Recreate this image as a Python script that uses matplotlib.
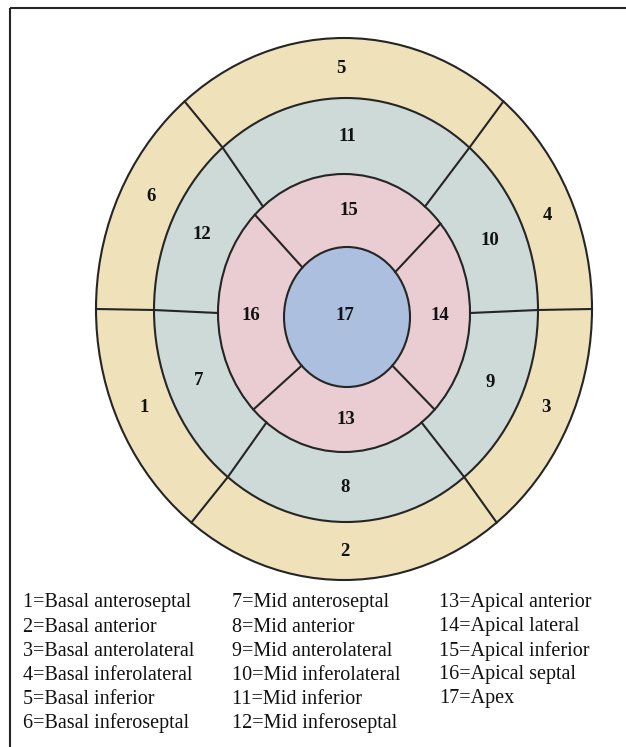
import numpy as np
import matplotlib
matplotlib.use("Agg")
import matplotlib.pyplot as plt
from matplotlib.patches import Ellipse, Rectangle

# AHA 17 segment bullseye, ring outlines in picture pixels (y down)
# order: basal outer edge, basal/mid, mid/apical, apex
ring_cx = [344, 346, 344, 347]
ring_cy = [309, 310, 313, 317]
ring_rx = [248, 192, 126, 63]
ring_ry = [271, 212, 139, 70]
ring_colors = ["#EFE2BB", "#CDDAD8", "#E9CDD2", "#ACBFDF"]

# spoke angles in degrees, counter-clockwise from 3 o'clock
basal_spokes = [0, 50, 130, 180, 232, 308]   # same for mid ring
apical_spokes = [40, 135, 224, 316]

# segment numbers per ring and angle where the number is written
basal_segs = [4, 5, 6, 1, 2, 3]
basal_lab_ang = [23, 91, 152, 204, 270, 336]
mid_segs = [10, 11, 12, 7, 8, 9]
mid_lab_ang = [24, 89, 154, 203, 270, 336]
apical_segs = [14, 15, 16, 13]
apical_lab_ang = [0, 88, 180, 270]

seg_names = ["Basal anteroseptal", "Basal anterior", "Basal anterolateral",
             "Basal inferolateral", "Basal inferior", "Basal inferoseptal",
             "Mid anteroseptal", "Mid anterior", "Mid anterolateral",
             "Mid inferolateral", "Mid inferior", "Mid inferoseptal",
             "Apical anterior", "Apical lateral", "Apical inferior",
             "Apical septal", "Apex"]


def ell_pt(i, ang):
    # point on ring outline i at angle ang (deg)
    t = np.deg2rad(ang)
    return ring_cx[i] + ring_rx[i] * np.cos(t), ring_cy[i] - ring_ry[i] * np.sin(t)


def mid_pt(i, ang):
    # point half way between outline i and i+1
    x0, y0 = ell_pt(i, ang)
    x1, y1 = ell_pt(i + 1, ang)
    return (x0 + x1) / 2, (y0 + y1) / 2


fig = plt.figure(figsize=(6.26, 7.47), dpi=100)
ax = fig.add_axes([0, 0, 1, 1])
ax.set_xlim(0, 626)
ax.set_ylim(747, 0)
ax.axis("off")

lc = "#252525"
lw = 1.5

# frame
ax.add_patch(Rectangle((10, 8), 700, 800, fill=False, ec=lc, lw=1.5))

# filled rings, outer first
for i in range(4):
    ax.add_patch(Ellipse((ring_cx[i], ring_cy[i]), 2 * ring_rx[i], 2 * ring_ry[i],
                         fc=ring_colors[i], ec=lc, lw=lw, zorder=2 + i))

# basal + mid spokes
for a in basal_spokes:
    pts = [ell_pt(i, a) for i in range(3)]
    ax.plot([p[0] for p in pts], [p[1] for p in pts], color=lc, lw=lw, zorder=7)

# apical spokes
for a in apical_spokes:
    pts = [ell_pt(i, a) for i in (2, 3)]
    ax.plot([p[0] for p in pts], [p[1] for p in pts], color=lc, lw=lw, zorder=7)

num_font = dict(family="Liberation Serif", weight="bold", fontsize=13.5,
                ha="center", va="center", color="#111111", zorder=8)

for segs, angs, ring in [(basal_segs, basal_lab_ang, 0),
                         (mid_segs, mid_lab_ang, 1),
                         (apical_segs, apical_lab_ang, 2)]:
    for s, a in zip(segs, angs):
        x, y = mid_pt(ring, a)
        ax.text(x, y, str(s), **num_font)
ax.text(ring_cx[3] - 2, ring_cy[3] - 2, "17", **num_font)

# legend below the bullseye, three columns
col_x = [23, 232, 439]
row_y0 = 603
row_dy = 24
for k, name in enumerate(seg_names):
    col = min(k // 6, 2)
    row = k - col * 6
    ax.text(col_x[col], row_y0 + row * row_dy, "%d=%s" % (k + 1, name),
            family="Liberation Serif", fontsize=14.5, ha="left", va="center",
            color="#111111")

fig.savefig("out.png", dpi=100)
